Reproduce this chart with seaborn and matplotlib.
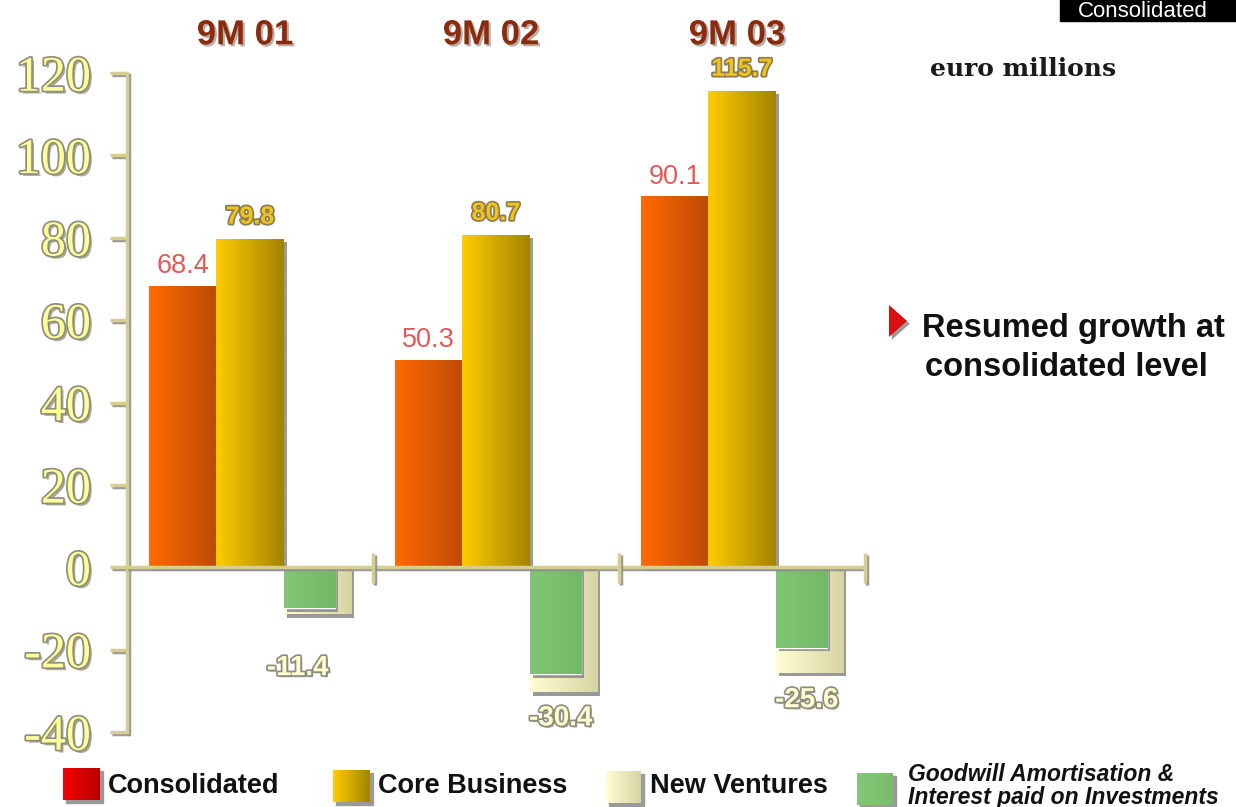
import numpy as np
import pandas as pd
import seaborn as sns
import matplotlib
matplotlib.use("Agg")
import matplotlib.pyplot as plt
import matplotlib.patheffects as pe
from matplotlib.colors import LinearSegmentedColormap
from matplotlib.patches import Rectangle, Polygon

# ---- data (euro millions) ----
periods = ["9M 01", "9M 02", "9M 03"]
series_names = ["Consolidated", "Core Business", "New Ventures"]
consolidated = [68.4, 50.3, 90.1]
core_business = [79.8, 80.7, 115.7]
new_ventures = [-11.4, -30.4, -25.6]
goodwill_interest = [-10.0, -26.0, -19.5]
y_ticks = [-40, -20, 0, 20, 40, 60, 80, 100, 120]
legend_labels = ["Consolidated", "Core Business", "New Ventures",
                 "Goodwill Amortisation &\nInterest paid on Investments"]

sns.set_theme(style="white")
plt.rcParams["font.family"] = ["Liberation Sans", "DejaVu Sans"]

W, H = 1236, 807
def fx(px):
    return px / W
def fy(py):
    return 1 - py / H

KHAKI = "#D6CE8E"
shadow_fx = [pe.SimplePatchShadow(offset=(2.5, -2.5), shadow_rgbFace="#8e8e8e", alpha=0.9), pe.Normal()]
line_fx = [pe.SimpleLineShadow(offset=(1.5, -1.5), shadow_color="#8e8e8e", alpha=0.9), pe.Normal()]

df = pd.DataFrame({
    "period": periods * 3,
    "series": np.repeat(series_names, 3),
    "value": consolidated + core_business + new_ventures,
})

fig = plt.figure(figsize=(W / 100, H / 100), dpi=100)
fig.patch.set_facecolor("white")
ax = fig.add_axes([fx(127), fy(732), fx(865) - fx(127), (732 - 73) / H])
ax.set_facecolor("none")

palette = {"Consolidated": "#F06000", "Core Business": "#E8B800", "New Ventures": "#EEEBC0"}
sns.barplot(data=df, x="period", y="value", hue="series", order=periods,
            hue_order=series_names, palette=palette, width=0.82, dodge=True,
            errorbar=None, saturation=1, legend=False, ax=ax)

gradients = {
    0: ("#FF6A00", "#BE4A06"),
    1: ("#FFCC00", "#A48400"),
    2: ("#FFFDD2", "#D8D4A4"),
}

def shade(target_ax, patch, c_left, c_right, z):
    x, y = patch.get_x(), patch.get_y()
    w, h = patch.get_width(), patch.get_height()
    cmap = LinearSegmentedColormap.from_list("bar", [c_left, c_right])
    grad = np.linspace(0, 1, 64).reshape(1, -1)
    im = target_ax.imshow(grad, cmap=cmap, aspect="auto", origin="lower",
                          extent=[x, x + w, min(y, y + h), max(y, y + h)],
                          interpolation="bilinear", zorder=z)
    im.set_clip_path(patch)
    return im

bars = sorted(ax.patches, key=lambda p: p.get_x())
for i, p in enumerate(bars):
    kind = i % 3
    p.set_zorder(2)
    p.set_edgecolor("none")
    p.set_path_effects(shadow_fx)
    shade(ax, p, *gradients[kind], z=2.1)

# goodwill amortisation & interest overlaid on the new ventures bars
cream_bars = [p for i, p in enumerate(bars) if i % 3 == 2]
green = ax.bar([p.get_x() for p in cream_bars], goodwill_interest,
               width=[p.get_width() * 0.76 for p in cream_bars], align="edge",
               color="#7DC271", zorder=3)
for p in green:
    p.set_path_effects(shadow_fx)
    shade(ax, p, "#80C674", "#72B866", z=3.1)

ax.set_xlim(-0.5, 2.5)
ax.set_ylim(-40, 120)
ax.set_xlabel("")
ax.set_ylabel("")
ax.set_xticks([])
ax.set_yticks(y_ticks)
ax.set_yticklabels([str(t) for t in y_ticks])

for side in ["top", "right", "bottom"]:
    ax.spines[side].set_visible(False)
ax.spines["left"].set_color(KHAKI)
ax.spines["left"].set_linewidth(2.5)
ax.spines["left"].set_path_effects(line_fx)
ax.tick_params(axis="y", direction="out", length=12, width=2.5, color=KHAKI,
               pad=14, left=True)
for lab in ax.get_yticklabels():
    lab.set_fontfamily(["Liberation Serif", "DejaVu Serif"])
    lab.set_fontsize(36)
    lab.set_color("#FFFF99")
    lab.set_path_effects([pe.SimplePatchShadow(offset=(2, -2), shadow_rgbFace="#a8a894", alpha=1),
                          pe.Stroke(linewidth=2.5, foreground="#8e8e7c"), pe.Normal()])
for t in ax.yaxis.get_ticklines():
    t.set_path_effects(line_fx)

# zero line with group separators
ax.axhline(0, color=KHAKI, lw=2.5, zorder=4, path_effects=line_fx)
ax.vlines([0.5, 1.5, 2.5], -3.8, 3.5, color=KHAKI, lw=2.5, zorder=4,
          clip_on=False, path_effects=line_fx)

# period headers
for i, name in enumerate(periods):
    ax.text(i - 0.02, 1.058, name, transform=ax.get_xaxis_transform(),
            ha="center", va="center", fontsize=25, fontweight="bold", color="#8B2A0C",
            path_effects=[pe.SimplePatchShadow(offset=(1.5, -1.5), shadow_rgbFace="#b8b0a8", alpha=1), pe.Normal()])

# value labels
for i in range(3):
    pc, pk = bars[3 * i], bars[3 * i + 1]
    ax.text(pc.get_x() + pc.get_width() / 2, consolidated[i] + 1.6, f"{consolidated[i]:.1f}",
            ha="center", va="bottom", fontsize=19.5, color="#E25A58", zorder=6)
    ax.text(pk.get_x() + pk.get_width() / 2, core_business[i] + 2.4, f"{core_business[i]:.1f}",
            ha="center", va="bottom", fontsize=18, fontweight="bold",
            color="#F2C418", zorder=6,
            path_effects=[pe.Stroke(linewidth=2.5, foreground="#8a7c56"), pe.Normal()])

neg_shift = [(-0.08, -13.1), (-0.01, -6.3), (-0.01, -6.7)]
for i in range(3):
    pn = bars[3 * i + 2]
    dx, dy = neg_shift[i]
    ax.text(pn.get_x() + pn.get_width() / 2 + dx, new_ventures[i] + dy, f"{new_ventures[i]:.1f}",
            ha="center", va="center", fontsize=20, fontweight="bold",
            color="#FFFFD2", zorder=6,
            path_effects=[pe.SimplePatchShadow(offset=(1.5, -1.5), shadow_rgbFace="#a0a090", alpha=1),
                          pe.Stroke(linewidth=2.5, foreground="#8e8e7e"), pe.Normal()])

# corner tag
fig.patches.append(Rectangle((fx(1060), fy(21)), 1 - fx(1060), 21 / H,
                             transform=fig.transFigure, color="black", zorder=1))
fig.text(fx(1078), fy(17), "Consolidated", ha="left", va="baseline", fontsize=16,
         color="white", zorder=2)

# unit note
fig.text(fx(930), fy(69), "euro millions", ha="left", va="center", fontsize=18,
         fontweight="bold", family=["DejaVu Serif"], color="#1a1a1a")

# commentary with bullet
tri = Polygon([(fx(889), fy(305)), (fx(907), fy(321)), (fx(889), fy(337))], closed=True,
              transform=fig.transFigure, facecolor="#D81010", edgecolor="none",
              path_effects=[pe.SimplePatchShadow(offset=(2, -2), shadow_rgbFace="#909090", alpha=0.9), pe.Normal()])
fig.patches.append(tri)
fig.text(fx(922), fy(328), "Resumed growth at", ha="left", va="center", fontsize=23.5,
         fontweight="bold", color="#111111")
fig.text(fx(925), fy(368), "consolidated level", ha="left", va="center", fontsize=23.5,
         fontweight="bold", color="#111111")

# legend
swatches = [
    ((63, 768, 37, 32), ("#F40000", "#B80000")),
    ((333, 770, 37, 32), ("#FFCC00", "#A48400")),
    ((606, 771, 35, 32), ("#FFFDD2", "#D8D4A4")),
    ((857, 773, 36, 32), ("#82C878", "#78BE6C")),
]
text_x = [108, 378, 650, 908]
for (x0, y0, w, h), (c1, c2) in swatches:
    fig.patches.append(Rectangle((fx(x0 + 3), fy(y0 + h + 3)), w / W, h / H,
                                 transform=fig.transFigure, color="#9a9a9a", zorder=4))
    sax = fig.add_axes([fx(x0), fy(y0 + h), w / W, h / H], zorder=5)
    sax.imshow(np.linspace(0, 1, 32).reshape(1, -1), aspect="auto",
               cmap=LinearSegmentedColormap.from_list("sw", [c1, c2]))
    sax.set_axis_off()

for k in range(3):
    fig.text(fx(text_x[k]), fy(786), legend_labels[k], ha="left", va="center",
             fontsize=19.5, fontweight="bold", color="#111111")
fig.text(fx(text_x[3]), fy(786), legend_labels[3], ha="left", va="center",
         fontsize=16.5, fontweight="bold", fontstyle="italic",
         color="#111111", linespacing=1.0)

fig.savefig("out.png", dpi=100, facecolor="white")
